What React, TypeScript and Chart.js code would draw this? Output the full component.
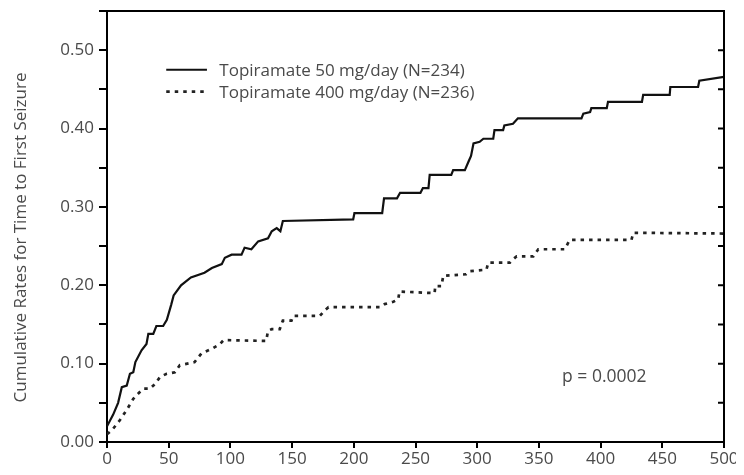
import { useEffect, useRef } from "react";
import { Chart, registerables } from "chart.js";

Chart.register(...registerables);

// ---- data ----
const dose50Days = [0, 5, 9, 12, 16, 18.6, 21.3, 23, 28, 32, 33.5, 37.5, 40, 45.5, 48.5, 52, 54, 60, 68, 79, 85, 93, 95.5, 101, 109, 111.5, 117, 122.5, 130.5, 133.5, 137.5, 140.5, 142.5, 199.5, 200.5, 223, 224.5, 235, 237.5, 254, 256, 260.5, 261.5, 279, 280.5, 290, 293, 295, 297, 302, 305, 313, 314, 321, 322, 329, 333, 384.5, 386, 391.5, 392.5, 405, 406, 433.5, 434.5, 456, 456.5, 479, 480, 500];
const dose50Rates = [0.02, 0.035, 0.05, 0.07, 0.072, 0.087, 0.089, 0.102, 0.117, 0.125, 0.138, 0.138, 0.148, 0.148, 0.156, 0.175, 0.187, 0.2, 0.21, 0.216, 0.222, 0.227, 0.235, 0.239, 0.239, 0.248, 0.246, 0.256, 0.26, 0.269, 0.273, 0.269, 0.282, 0.284, 0.292, 0.292, 0.311, 0.311, 0.318, 0.318, 0.324, 0.324, 0.341, 0.341, 0.347, 0.347, 0.358, 0.365, 0.381, 0.383, 0.387, 0.387, 0.398, 0.398, 0.404, 0.406, 0.413, 0.413, 0.419, 0.421, 0.426, 0.426, 0.434, 0.434, 0.443, 0.443, 0.453, 0.453, 0.461, 0.466];

const dose400Days = [0, 4, 10.5, 16, 21.3, 25.4, 29.4, 34.8, 38.9, 43, 48.3, 55, 59, 71, 76.5, 85, 91.5, 94.5, 129, 130.5, 133.5, 140, 142.5, 149.5, 151, 172.5, 176.5, 179.5, 221, 225, 232, 236, 237, 251, 265.5, 266, 271, 272.5, 291, 294, 307.5, 309, 326.5, 329, 332, 345.5, 349.5, 371, 375, 425, 426.5, 500];
const dose400Rates = [0.01, 0.015, 0.028, 0.041, 0.055, 0.062, 0.068, 0.068, 0.074, 0.083, 0.087, 0.089, 0.098, 0.102, 0.113, 0.119, 0.125, 0.13, 0.129, 0.142, 0.144, 0.144, 0.155, 0.155, 0.161, 0.161, 0.168, 0.172, 0.172, 0.176, 0.179, 0.182, 0.192, 0.191, 0.19, 0.199, 0.199, 0.212, 0.214, 0.218, 0.22, 0.229, 0.229, 0.233, 0.237, 0.237, 0.246, 0.246, 0.258, 0.258, 0.267, 0.266];

const seriesLabels = ["Topiramate 50 mg/day (N=234)", "Topiramate 400 mg/day (N=236)"];
const yAxisTitle = "Cumulative Rates for Time to First Seizure";
const pValueText = "p = 0.0002";
const xMin = 0;
const xMax = 500;
const xStep = 50;
const yMin = 0;
const yMax = 0.55;
const yStep = 0.05;

const FONT = "'Open Sans', 'Noto Sans', sans-serif";
const TEXT = "#4a4a4a";

const decorPlugin = {
  id: "decor",
  afterDatasetsDraw(chart: any) {
    const { ctx, chartArea: a, scales } = chart;
    const xs = scales.x;
    const ys = scales.y;
    ctx.save();
    // frame top and right
    ctx.strokeStyle = "#000";
    ctx.lineWidth = 2;
    ctx.beginPath();
    ctx.moveTo(a.left, a.top);
    ctx.lineTo(a.right, a.top);
    ctx.lineTo(a.right, a.bottom + 1);
    ctx.stroke();
    // inward ticks on the right side
    ctx.beginPath();
    ys.ticks.forEach((t: any) => {
      const py = ys.getPixelForValue(t.value);
      ctx.moveTo(a.right, py);
      ctx.lineTo(a.right - 6, py);
    });
    ctx.stroke();

    // legend inside the plot
    ctx.font = `17px ${FONT}`;
    ctx.textBaseline = "middle";
    ctx.textAlign = "left";
    chart.data.datasets.forEach((ds: any, i: number) => {
      const py = ys.getPixelForValue(0.475 - i * 0.028);
      ctx.strokeStyle = ds.borderColor;
      ctx.lineWidth = ds.borderWidth;
      ctx.setLineDash(ds.borderDash || []);
      ctx.beginPath();
      ctx.moveTo(xs.getPixelForValue(48), py);
      ctx.lineTo(xs.getPixelForValue(81), py);
      ctx.stroke();
      ctx.setLineDash([]);
      ctx.fillStyle = TEXT;
      ctx.fillText(ds.label, xs.getPixelForValue(91), py + 1);
    });

    // p-value
    ctx.textAlign = "center";
    ctx.font = `17.5px ${FONT}`;
    ctx.fillText(pValueText, xs.getPixelForValue(403), ys.getPixelForValue(0.083));

    // y-axis title
    ctx.font = `17px ${FONT}`;
    ctx.translate(13, (a.top + a.bottom) / 2 + 11);
    ctx.rotate(-Math.PI / 2);
    ctx.textAlign = "center";
    ctx.fillText(yAxisTitle, 0, 0);
    ctx.restore();
  },
};

export default function App() {
  const ref = useRef<HTMLCanvasElement>(null);
  useEffect(() => {
    if (!ref.current) return;
    const chart = new Chart(ref.current, {
      type: "line",
      data: {
        datasets: [
          {
            label: seriesLabels[0],
            data: dose50Days.map((d, i) => ({ x: d, y: dose50Rates[i] })),
            borderColor: "#111",
            borderWidth: 2.2,
            pointRadius: 0,
            tension: 0,
            fill: false,
          },
          {
            label: seriesLabels[1],
            data: dose400Days.map((d, i) => ({ x: d, y: dose400Rates[i] })),
            borderColor: "#222",
            borderWidth: 2.7,
            borderDash: [3.5, 5],
            borderCapStyle: "butt",
            pointRadius: 0,
            tension: 0,
            fill: false,
          },
        ],
      },
      options: {
        animation: false,
        responsive: true,
        maintainAspectRatio: false,
        layout: { padding: { top: 3, right: 20, left: 0, bottom: 0 } },
        plugins: { legend: { display: false }, tooltip: { enabled: false } },
        scales: {
          x: {
            type: "linear",
            min: xMin,
            max: xMax,
            ticks: {
              stepSize: xStep,
              color: TEXT,
              font: { family: FONT, size: 17 },
              padding: 1,
              maxRotation: 0,
              autoSkip: false,
            },
            grid: { drawOnChartArea: false, tickLength: 6, color: "#000", lineWidth: 2, tickWidth: 2, tickColor: "#000" },
            border: { display: true, color: "#000", width: 2 },
            afterFit: (s: any) => {
              s.height = 25;
              s.paddingLeft = 0;
              s.paddingRight = 0;
            },
          },
          y: {
            type: "linear",
            min: yMin,
            max: yMax,
            ticks: {
              stepSize: yStep,
              color: TEXT,
              font: { family: FONT, size: 17 },
              padding: 5,
              autoSkip: false,
              callback: (v: any) => (Math.round(Number(v) * 100) % 10 === 0 ? Number(v).toFixed(2) : ""),
            },
            grid: { drawOnChartArea: false, tickLength: 8, color: "#000", lineWidth: 2, tickWidth: 2, tickColor: "#000" },
            border: { display: true, color: "#000", width: 2 },
            afterFit: (s: any) => {
              s.width = 99;
              s.paddingTop = 0;
              s.paddingBottom = 0;
            },
          },
        },
      },
      plugins: [decorPlugin],
    });
    return () => chart.destroy();
  }, []);
  return (
    <div style={{ position: "relative", width: 736, height: 459 }}>
      <canvas ref={ref} />
    </div>
  );
}
